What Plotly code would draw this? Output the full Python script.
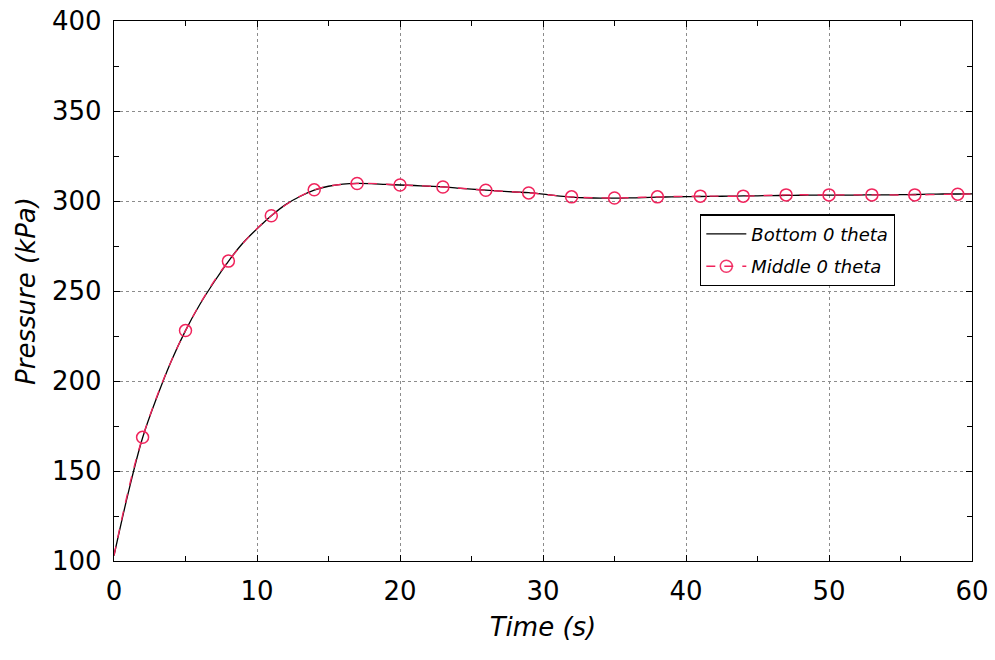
import plotly.graph_objects as go

# Bottom probe, 0 theta: pressure history sampled every second
time_bottom = list(range(0, 61))
p_bottom = [103, 138, 168.5, 191, 211, 228, 242.5, 255, 266.5, 276.5,
            284.5, 291.8, 298, 302.5, 306, 308.2, 309.4, 309.8, 309.6, 309.2,
            308.9, 308.6, 308.2, 307.8, 307.2, 306.6, 306, 305.5, 305, 304.6,
            303.8, 302.8, 302.2, 301.8, 301.6, 301.6, 301.7, 301.9, 302.1, 302.3,
            302.4, 302.5, 302.6, 302.7, 302.8, 302.9, 303, 303.1, 303.2, 303.3,
            303.3, 303.3, 303.3, 303.4, 303.4, 303.5, 303.6, 303.8, 303.9, 303.9,
            304]

# Middle probe, 0 theta: marked samples every 3 s
time_middle = [0, 2, 5, 8, 11, 14, 17, 20, 23, 26, 29, 32, 35, 38, 41, 44,
               47, 50, 53, 56, 59, 60]
p_middle = [103, 168.7, 228, 266.6, 291.8, 306.2, 309.7, 308.9, 307.8, 306,
            304.5, 302.3, 301.7, 302.3, 302.7, 302.7, 303.4, 303.4, 303.4,
            303.4, 303.8, 303.9]
marker_flags = [False] + [True] * 20 + [False]

x_ticks = [0, 10, 20, 30, 40, 50, 60]
y_ticks = [100, 150, 200, 250, 300, 350, 400]

PINK = "#f0245c"
FONT = "DejaVu Sans"

fig = go.Figure()
fig.add_trace(go.Scatter(
    x=time_bottom, y=p_bottom, mode="lines", name="<i>Bottom 0 theta</i>",
    legendgroup="bottom",
    line=dict(color="black", width=1.3, shape="spline"),
))
fig.add_trace(go.Scatter(
    x=time_middle, y=p_middle, mode="lines+markers", name="<i>Middle 0 theta</i>",
    legendgroup="middle",
    line=dict(color=PINK, width=1.4, dash="dash", shape="spline"),
    marker=dict(symbol="circle-open", size=12, color=PINK, line=dict(width=1.5),
                opacity=[1 if f else 0 for f in marker_flags]),
))

axis_common = dict(
    showline=True, linecolor="black", linewidth=1.3, mirror="allticks",
    ticks="inside", ticklen=6, tickcolor="black", tickwidth=1,
    showgrid=True, gridcolor="#8c8c8c", griddash="dot", gridwidth=1,
    zeroline=False, automargin=False,
    tickfont=dict(family=FONT, size=26, color="black"),
)

fig.update_xaxes(
    range=[0, 60], tickvals=x_ticks, ticktext=[str(v) for v in x_ticks],
    minor=dict(tickvals=[5, 15, 25, 35, 45, 55], ticks="inside", ticklen=5,
               tickcolor="black", showgrid=False),
    title=dict(text="<i>Time (s)</i>", font=dict(family=FONT, size=26, color="black"),
               standoff=12),
    ticklabelstandoff=7,
    **axis_common,
)
fig.update_yaxes(
    range=[100, 400], tickvals=y_ticks, ticktext=[str(v) for v in y_ticks],
    minor=dict(tickvals=[125, 175, 225, 275, 325, 375], ticks="inside", ticklen=5,
               tickcolor="black", showgrid=False),
    title=dict(text="<i>Pressure (kPa)</i>", font=dict(family=FONT, size=26, color="black"),
               standoff=8),
    ticklabelstandoff=6,
    **axis_common,
)

fig.update_layout(
    width=995, height=660,
    margin=dict(l=114, r=23, t=21, b=99),
    plot_bgcolor="white", paper_bgcolor="white",
    showlegend=True,
    legend=dict(
        x=0.683, y=0.642, xanchor="left", yanchor="top",
        bordercolor="black", borderwidth=1.3, bgcolor="white",
        font=dict(family=FONT, size=18, color="black"),
        itemwidth=40, tracegroupgap=6,
    ),
)

fig.write_html("out.html")
